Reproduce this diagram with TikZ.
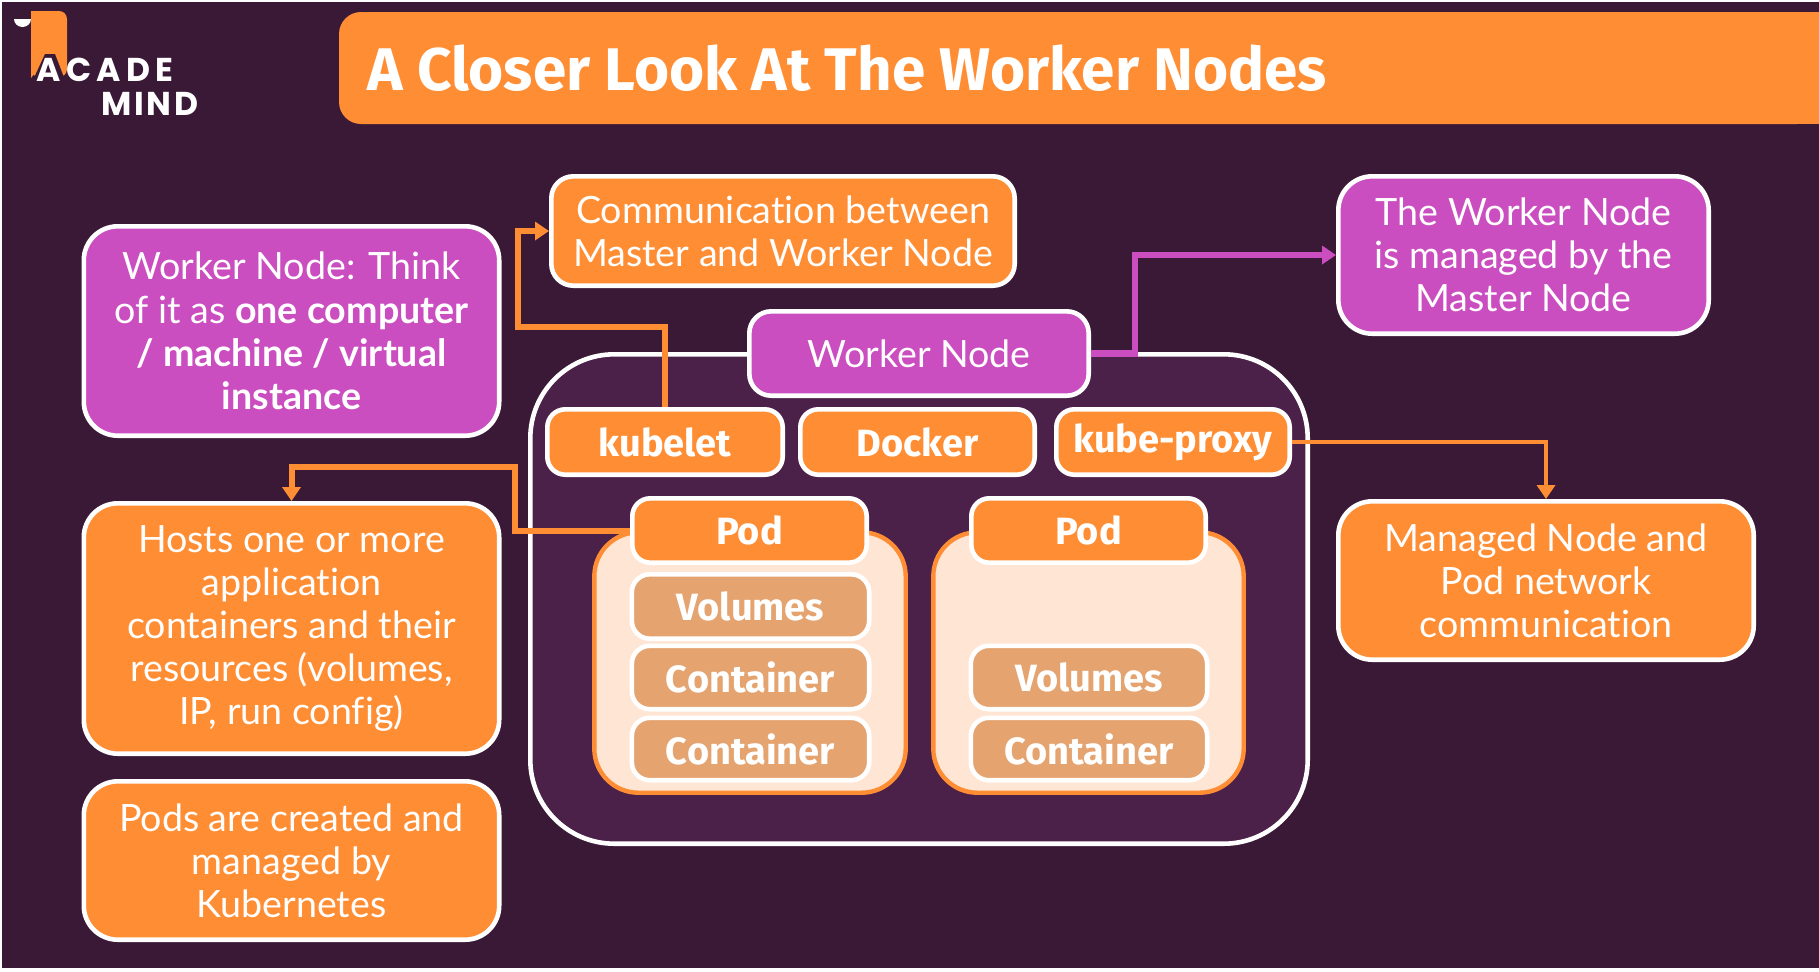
\documentclass[tikz,border=0pt]{standalone}
\usepackage{fontspec}
\setmainfont{Lato}[Ligatures=NoCommon]
\newfontfamily\ttlfont{Fira Sans}
\newfontfamily\logofontA[LetterSpace=16]{Poppins}
\newfontfamily\logofontB[LetterSpace=8]{Poppins}
\usetikzlibrary{arrows.meta}
\definecolor{bg}{HTML}{3A1936}
\definecolor{outerfill}{HTML}{4B2049}
\definecolor{orng}{HTML}{FF8D33}
\definecolor{purp}{HTML}{CB4EC0}
\definecolor{podfill}{HTML}{FFE5D3}
\definecolor{inner}{HTML}{E4A36F}
\tikzset{
  x=0.5pt,y=-0.5pt,
  sz/.style 2 args={minimum width=#1*0.5pt-2.3pt,minimum height=#2*0.5pt-2.3pt},
  basebox/.style={draw=white,line width=2.3pt,rounded corners=9pt,inner sep=0pt,align=center,text=white},
  bigbox/.style={basebox,font=\fontsize{18.8}{21.6}\selectfont,rounded corners=17pt},
  orangebig/.style={bigbox,fill=orng},
  purplebig/.style={bigbox,fill=purp},
  comp/.style={basebox,fill=orng,font=\ttlfont\fontsize{19}{21}\selectfont\bfseries},
  innerbox/.style={basebox,fill=inner,font=\ttlfont\fontsize{19}{21}\selectfont\bfseries},
  podbody/.style={draw=orng,line width=2.2pt,fill=podfill,rounded corners=22pt,inner sep=0pt},
  link/.style={line width=3pt,-{Triangle[length=7pt,width=9pt]}},
  olink/.style={link,draw=orng},
  plink/.style={link,draw=purp,line width=3.4pt},
  olinkthin/.style={olink,line width=2.4pt},
}
\begin{document}
\begin{tikzpicture}
\useasboundingbox (0,0) rectangle (1819,971);
\fill[bg] (2,2) rectangle (1819,968);
% title
\fill[orng,rounded corners=11pt] (339,12) rectangle (1819,124);
\fill[orng] (1700,12) rectangle (1819,124);
\node[anchor=west,inner sep=0pt,text=white,font=\ttlfont\fontsize{30.1}{32}\selectfont\bfseries] (title) at (367,68) {A Closer Look At The Worker Nodes};
% logo
\fill[orng,rounded corners=4pt] (31,11) -- (67,11) -- (67,77) -- (31,77) -- cycle;
\fill[orng] (31,11) rectangle (40,30);
\fill[orng] (31,60) -- (31,78) -- (45,60) -- cycle;
\fill[bg] (45,54) -- (55,54) -- (65,80) -- (33,80) -- cycle;
\fill[white] (14,19) arc[start angle=180,end angle=0,x radius=8.5,y radius=8] -- cycle;
\node[anchor=west,inner sep=0pt,text=white,font=\logofontA\fontsize{16.5}{16}\selectfont\bfseries] (logoA) at (36,70) {ACADE};
\node[anchor=west,inner sep=0pt,text=white,font=\logofontB\fontsize{16.5}{16}\selectfont\bfseries] (logoB) at (101,104) {MIND};
% outer worker area
\node[basebox,fill=outerfill,rounded corners=42pt,sz={782}{494}] (outer) at (919,599) {};
% pod bodies
\node[podbody,sz={316}{265}] (body1) at (750,662.5) {};
\node[podbody,sz={315}{265}] (body2) at (1088.5,662.5) {};
% side boxes
\node[purplebig,sz={420}{214}] (wn) at (291.5,331) {Worker Node: Think\\of it as \textbf{one computer}\\\textbf{/ machine / virtual}\\\textbf{instance}};
\node[orangebig,sz={420}{255}] (hosts) at (291.5,628.5) {Hosts one or more\\application\\containers and their\\resources (volumes,\\IP, run config)};
\node[orangebig,sz={420}{163}] (pods) at (291.5,860.5) {Pods are created and\\managed by\\Kubernetes};
\node[orangebig,rounded corners=11pt,sz={468}{114}] (comm) at (783,231) {Communication between\\Master and Worker Node};
\node[purplebig,sz={375}{162}] (master) at (1523.5,255) {The Worker Node\\is managed by the\\Master Node};
\node[orangebig,sz={420}{163}] (net) at (1546,580.5) {Managed Node and\\Pod network\\communication};
% central boxes
\node[basebox,fill=purp,rounded corners=11pt,font=\fontsize{18.8}{21}\selectfont,sz={344}{89}] (worker) at (919,353.5) {Worker Node};
\node[comp,sz={240}{70}] (kubelet) at (665,442) {kubelet};
\node[comp,sz={239}{70}] (docker) at (917.5,442) {Docker};
\node[comp,sz={238}{70}] (proxy) at (1173,442) {kube-proxy};
\node[comp,sz={239}{69}] (pod1) at (749.5,530.5) {Pod};
\node[comp,sz={239}{69}] (pod2) at (1088.5,530.5) {Pod};
\node[innerbox,sz={242}{69}] (vol1) at (750.5,606.5) {Volumes};
\node[innerbox,sz={242}{68}] (con1) at (750.5,677.5) {Container};
\node[innerbox,sz={242}{67}] (con2) at (750.5,749) {Container};
\node[innerbox,sz={241}{68}] (vol2) at (1089,677.5) {Volumes};
\node[innerbox,sz={241}{67}] (con3) at (1089,749) {Container};
% connector bends
\coordinate (kb1) at (518,327);
\coordinate (pb1) at (515,467);
\coordinate (wb1) at (1135,255);
% connectors
\draw[olink] (kubelet.north) |- (kb1) |- (comm.west);
\draw[plink] (worker.east) -| (wb1) -- (master.west);
\draw[olinkthin] (proxy.east) -| (net.north);
\draw[olink] (pod1.west) -| (pb1) -| (hosts.north);
\end{tikzpicture}
\end{document}
